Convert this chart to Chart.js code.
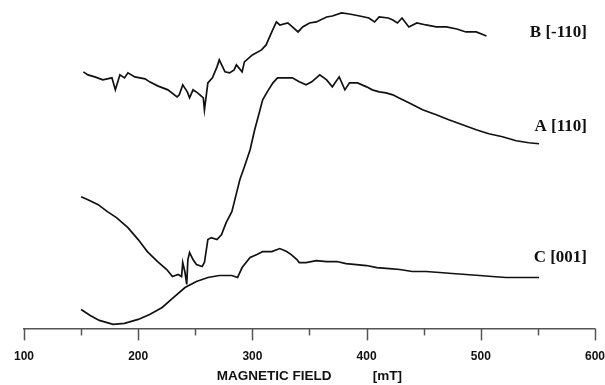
<!DOCTYPE html>
<html>
<head>
<meta charset="utf-8">
<script src="https://cdn.jsdelivr.net/npm/chart.js@4"></script>
<style>
  html, body { margin: 0; padding: 0; background: #ffffff; }
  #box { width: 605px; height: 385px; }
</style>
</head>
<body>
<div id="box"><canvas id="grafico"></canvas></div>
<script>
// ==========================================
// DATA (field in mT, intensity in arbitrary units)
// ==========================================
const campoB = [152,156,162,169,177,180,184,188,191,197,206,210,217,226,234,236,239,243,245,248,252,257,258,261,265,269,271,276,280,284,286,291,293,300,308,312,317,321,324,331,335,340,344,350,356,365,370,378,385,394,402,407,411,419,423,427,431,437,444,452,461,470,479,487,496,505];
const sinalB = [257,254,252,249,251,239,254,251,256,252,250,247,243,239,232,234,244,237,231,239,236,231,219,246,251,262,269,257,256,259,264,257,267,274,279,284,297,307,304,306,302,297,302,306,307,312,313,316,315,313,311,307,312,311,309,306,311,302,306,304,302,302,300,297,297,293];

const campoA = [150,156,165,173,181,191,200,208,217,225,230,235,238,239,241,242.5,243.5,245,248,251,256,258,261,264,269,273,277,282,284,289,293,298,302,306,309,313,318,322,330,335,341,347,352,359,365,370,376,381,385,392,400,405,411,417,423,428,437,449,461,472,484,496,507,519,531,542,551];
const sinalA = [132,129,124,117,111,101,89,77,67,59,52,54,52,66,56,44,69,76,69,64,62,66,89,91,89,94,106,117,126,149,162,179,199,216,229,237,246,251,251,251,247,244,247,254,249,242,252,239,246,246,242,239,237,236,234,231,226,219,214,209,204,199,195,192,188,186,185];

const campoC = [150,158,166,178,188,200,210,221,230,241,251,261,271,282,287,291,298,304,309,317,324,330,334,339,341,347,356,365,374,382,391,400,409,420,429,440,452,464,475,487,499,510,522,534,551];
const sinalC = [19,13,8,4,5,9,14,21,30,41,47,51,53,53,51,61,71,74,77,77,80,77,74,69,66,66,68,67,67,65,64,63,61,60,59,57,57,56,55,54,53,52,51,51,51];

const nomes = ["B [-110]", "A [110]", "C [001]"];
const ticksX = [100, 200, 300, 400, 500, 600];

function pares(xs, ys) {
    return xs.map(function (x, i) { return { x: x, y: ys[i] }; });
}

// ==========================================
// PLUGIN: tick marks (long/short) + curve labels
// ==========================================
const extras = {
    id: "extras",
    afterDraw: function (chart) {
        const c = chart.ctx;
        const sx = chart.scales.x;
        const sy = chart.scales.y;
        const y0 = sx.top;

        c.save();
        c.strokeStyle = "#555";
        c.lineWidth = 1.5;
        for (let v = 100; v <= 600; v += 50) {
            const px = Math.round(sx.getPixelForValue(v)) + 0.5;
            const comp = (v % 100 === 0) ? 12 : 7;
            c.beginPath();
            c.moveTo(px, y0);
            c.lineTo(px, y0 + comp);
            c.stroke();
        }

        // labels at the right of each curve
        const posY = [296, 202, 71];
        c.fillStyle = "#111";
        c.font = "bold 17px 'Liberation Serif'";
        c.textAlign = "right";
        c.textBaseline = "middle";
        nomes.forEach(function (n, i) {
            c.fillText(n, sx.getPixelForValue(593), sy.getPixelForValue(posY[i]));
        });
        c.restore();
    }
};

function criarGrafico() {
    const ctx = document.getElementById("grafico");

    const serie = function (label, xs, ys) {
        return {
            label: label,
            data: pares(xs, ys),
            borderColor: "#111",
            borderWidth: 1.7,
            pointRadius: 0,
            tension: 0,
            fill: false
        };
    };

    new Chart(ctx, {
        type: "line",
        data: {
            datasets: [
                serie(nomes[0], campoB, sinalB),
                serie(nomes[1], campoA, sinalA),
                serie(nomes[2], campoC, sinalC)
            ]
        },
        options: {
            responsive: true,
            maintainAspectRatio: false,
            animation: false,
            layout: { padding: { left: 24, right: 0, top: 0, bottom: 0 } },
            plugins: {
                legend: { display: false },
                tooltip: { enabled: false }
            },
            scales: {
                x: {
                    type: "linear",
                    min: 100,
                    max: 600,
                    afterBuildTicks: function (axis) {
                        axis.ticks = ticksX.map(function (v) { return { value: v }; });
                    },
                    border: { display: true, color: "#555", width: 1.5 },
                    grid: {
                        drawOnChartArea: false,
                        drawTicks: true,
                        tickLength: 21,
                        tickColor: "rgba(0,0,0,0)"
                    },
                    ticks: {
                        color: "#111",
                        padding: 0,
                        maxRotation: 0,
                        font: { family: "'Liberation Sans'", size: 12, weight: "bold" }
                    },
                    title: {
                        display: true,
                        text: "MAGNETIC FIELD           [mT]",
                        color: "#111",
                        padding: { top: 5, bottom: 2 },
                        font: { family: "'Liberation Sans'", size: 13.5, weight: "bold", lineHeight: 1.05 }
                    }
                },
                y: {
                    display: false,
                    min: 0,
                    max: 329
                }
            }
        },
        plugins: [extras]
    });
}

document.addEventListener("DOMContentLoaded", criarGrafico);
</script>
</body>
</html>
